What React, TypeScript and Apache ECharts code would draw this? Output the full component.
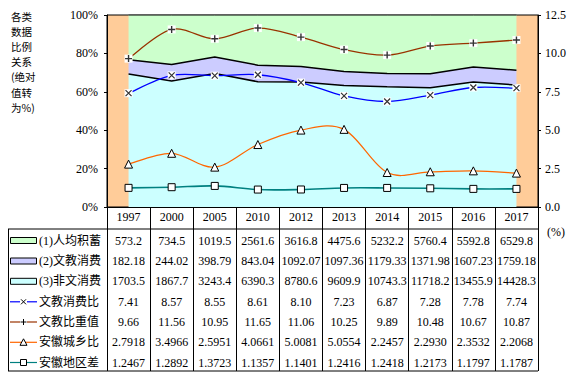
import React, { useEffect, useRef } from 'react';
import * as echarts from 'echarts';

const years = ['1997', '2000', '2005', '2010', '2012', '2013', '2014', '2015', '2016', '2017'];
const savings = [573.2, 734.5, 1019.5, 2561.6, 3616.8, 4475.6, 5232.2, 5760.4, 5592.8, 6529.8];
const eduSpend = [182.18, 244.02, 398.79, 843.04, 1092.07, 1097.36, 1179.33, 1371.98, 1607.23, 1759.18];
const otherSpend = [1703.5, 1867.7, 3243.4, 6390.3, 8780.6, 9609.9, 10743.3, 11718.2, 13455.9, 14428.3];
const eduRatio = [7.41, 8.57, 8.55, 8.61, 8.1, 7.23, 6.87, 7.28, 7.78, 7.74];
const eduShare = [9.66, 11.56, 10.95, 11.65, 11.06, 10.25, 9.89, 10.48, 10.67, 10.87];
const urbanRural = [2.7918, 3.4966, 2.5951, 4.0661, 5.0081, 5.0554, 2.2457, 2.293, 2.3532, 2.2068];
const regionGap = [1.2467, 1.2892, 1.3723, 1.1357, 1.1401, 1.2416, 1.2418, 1.2173, 1.1797, 1.1787];

const leftTicks = [0, 20, 40, 60, 80, 100];
const rightTicks = [0, 2.5, 5, 7.5, 10, 12.5];

const rowNames = ['(1)人均积蓄', '(2)文教消费', '(3)非文消费', '文教消费比', '文教比重值', '安徽城乡比', '安徽地区差'];
const rowValues = [savings, eduSpend, otherSpend, eduRatio, eduShare, urbanRural, regionGap];
const rowDigits = [1, 2, 1, 2, 2, 4, 4];
const titleLines = ['各类', '数据', '比例', '关系', '(绝对', '值转', '为%)'];

// styles
const C_GREEN = '#CCFFCC';
const C_LAV = '#CCCCFF';
const C_CYAN = '#CCFFFF';
const C_ORANGE_BG = '#FFCC99';
const C_BLUE = '#0000FF';
const C_BROWN = '#993300';
const C_ORANGE = '#FF6600';
const C_TEAL = '#008080';
const SERIF = '"Liberation Serif", "Times New Roman", serif';
const MIX = '"Liberation Serif", "Noto Sans CJK SC", serif';

const GRID_L = 107, GRID_R = 538, GRID_T = 15, GRID_B = 207;
const ROW_Y = [240.5, 261, 281.3, 301.8, 322, 342.3, 362.5];
const TABLE_TOP = 229, TABLE_BOT = 371, TABLE_L = 8;

const X_PATH = 'path://M0,0L10,10M10,0L0,10';
const PLUS_PATH = 'path://M5,0V10M0,5H10';

function pct(arr: number[]) {
  return arr.map((v, i) => (v / (savings[i] + eduSpend[i] + otherSpend[i])) * 100);
}

// Excel-like smoothed curve (Catmull-Rom converted to cubic Bezier), drawn through the axes
function smoothCurve(name: string, values: number[], color: string, width: number) {
  return {
    name: name + '-curve',
    type: 'custom',
    coordinateSystem: 'cartesian2d',
    xAxisIndex: 0,
    yAxisIndex: 1,
    data: values.map((v, i) => [i, v]),
    encode: { x: 0, y: 1 },
    z: 4,
    silent: true,
    renderItem: (params: any, api: any) => {
      if (params.dataIndex !== 0) return null;
      const p = values.map((v, i) => api.coord([i, v]));
      const n = p.length;
      let d = `M${p[0][0]},${p[0][1]}`;
      for (let i = 0; i < n - 1; i++) {
        const p0 = p[Math.max(0, i - 1)];
        const p1 = p[i];
        const p2 = p[i + 1];
        const p3 = p[Math.min(n - 1, i + 2)];
        const c1x = p1[0] + (p2[0] - p0[0]) / 6;
        const c1y = p1[1] + (p2[1] - p0[1]) / 6;
        const c2x = p2[0] - (p3[0] - p1[0]) / 6;
        const c2y = p2[1] - (p3[1] - p1[1]) / 6;
        d += ` C${c1x},${c1y} ${c2x},${c2y} ${p2[0]},${p2[1]}`;
      }
      return {
        type: 'path',
        shape: { pathData: d },
        style: { stroke: color, lineWidth: width, fill: 'none' },
      };
    },
  };
}

function legendGraphics() {
  const els: any[] = [];
  const kinds = ['area', 'area', 'area', 'x', 'plus', 'tri', 'sq'];
  const fills = [C_GREEN, C_LAV, C_CYAN];
  const lineColors = ['', '', '', C_BLUE, C_BROWN, C_ORANGE, C_TEAL];
  ROW_Y.forEach((y, r) => {
    const k = kinds[r];
    if (k === 'area') {
      els.push({ type: 'rect', shape: { x: 10.5, y: y - 3, width: 26, height: 6 }, style: { fill: fills[r], stroke: '#000', lineWidth: 1 } });
    } else {
      els.push({ type: 'line', shape: { x1: 10, y1: y, x2: 37, y2: y }, style: { stroke: lineColors[r], lineWidth: 1.2 } });
      const cx = 23.5;
      if (k === 'x' || k === 'plus') {
        els.push({ type: 'rect', shape: { x: cx - 3.5, y: y - 3.5, width: 7, height: 7 }, style: { fill: '#fff' } });
        if (k === 'x') {
          els.push({ type: 'line', shape: { x1: cx - 2.5, y1: y - 2.5, x2: cx + 2.5, y2: y + 2.5 }, style: { stroke: '#000', lineWidth: 1 } });
          els.push({ type: 'line', shape: { x1: cx + 2.5, y1: y - 2.5, x2: cx - 2.5, y2: y + 2.5 }, style: { stroke: '#000', lineWidth: 1 } });
        } else {
          els.push({ type: 'line', shape: { x1: cx, y1: y - 3, x2: cx, y2: y + 3 }, style: { stroke: '#000', lineWidth: 1 } });
          els.push({ type: 'line', shape: { x1: cx - 3, y1: y, x2: cx + 3, y2: y }, style: { stroke: '#000', lineWidth: 1 } });
        }
      } else if (k === 'tri') {
        els.push({ type: 'polygon', shape: { points: [[cx, y - 3.5], [cx + 3.5, y + 3], [cx - 3.5, y + 3]] }, style: { fill: '#fff', stroke: '#000', lineWidth: 1 } });
      } else {
        els.push({ type: 'rect', shape: { x: cx - 3, y: y - 3, width: 6, height: 6 }, style: { fill: '#fff', stroke: '#000', lineWidth: 1 } });
      }
    }
    els.push({ type: 'text', x: 39, y, style: { text: rowNames[r], font: `12px ${MIX}`, fill: '#000', verticalAlign: 'middle', align: 'left' } });
  });
  // table borders
  els.push({ type: 'line', shape: { x1: TABLE_L, y1: TABLE_TOP, x2: GRID_R, y2: TABLE_TOP }, style: { stroke: '#000', lineWidth: 1 } });
  els.push({ type: 'line', shape: { x1: TABLE_L, y1: TABLE_BOT, x2: GRID_R, y2: TABLE_BOT }, style: { stroke: '#000', lineWidth: 1 } });
  els.push({ type: 'line', shape: { x1: TABLE_L + 0.5, y1: TABLE_TOP, x2: TABLE_L + 0.5, y2: TABLE_BOT }, style: { stroke: '#000', lineWidth: 1 } });
  // title, one text per line
  titleLines.forEach((t, i) => {
    els.push({ type: 'text', x: 11, y: 16 + i * 15.2, style: { text: t, font: `10.5px "Noto Sans CJK SC", sans-serif`, fill: '#000', verticalAlign: 'middle', align: 'left' } });
  });
  els.push({ type: 'text', x: 547, y: 232, style: { text: '(%)', font: `12px ${SERIF}`, fill: '#000', verticalAlign: 'middle' } });
  return els;
}

export default function App() {
  const ref = useRef<HTMLDivElement>(null);
  useEffect(() => {
    if (!ref.current) return;
    const chart = echarts.init(ref.current, undefined, { renderer: 'svg' });
    const extraAxes = ROW_Y.map((y, r) => ({
      type: 'category',
      data: years,
      gridIndex: 0,
      position: 'bottom',
      offset: y - GRID_B,
      boundaryGap: true,
      axisLine: { show: false },
      axisTick: { show: false },
      axisLabel: {
        interval: 0,
        margin: 0,
        verticalAlign: 'middle',
        fontFamily: SERIF,
        fontSize: 12,
        color: '#000',
        formatter: (_v: string, idx: number) => rowValues[r][idx].toFixed(rowDigits[r]),
      },
    }));
    const markers = (name: string, data: number[]) => ({
      name,
      type: 'line',
      yAxisIndex: 1,
      data,
      lineStyle: { width: 0, opacity: 0 },
      z: 5,
    });
    const option: any = {
      animation: false,
      grid: {
        left: GRID_L, right: 577 - GRID_R, top: GRID_T, bottom: 376 - GRID_B,
        show: true, backgroundColor: C_ORANGE_BG, borderColor: '#000', borderWidth: 1,
      },
      xAxis: [
        {
          type: 'category',
          data: years,
          boundaryGap: true,
          axisLine: { show: true, lineStyle: { color: '#000' } },
          axisTick: { show: true, interval: 0, length: TABLE_BOT - GRID_B, lineStyle: { color: '#000' } },
          axisLabel: { interval: 0, margin: 10, verticalAlign: 'middle', fontFamily: SERIF, fontSize: 12, color: '#000' },
          splitLine: { show: false },
        },
        ...extraAxes,
      ],
      yAxis: [
        {
          type: 'value', min: leftTicks[0], max: leftTicks[leftTicks.length - 1], interval: 20,
          axisLine: { show: true, lineStyle: { color: '#000' } },
          axisTick: { show: true, length: 3, lineStyle: { color: '#000' } },
          axisLabel: { margin: 9, fontFamily: SERIF, fontSize: 12, color: '#000', formatter: '{value}%' },
          splitLine: { show: false },
        },
        {
          type: 'value', min: rightTicks[0], max: rightTicks[rightTicks.length - 1], interval: 2.5,
          position: 'right',
          axisLine: { show: true, lineStyle: { color: '#000' } },
          axisTick: { show: true, length: 3, lineStyle: { color: '#000' } },
          axisLabel: { margin: 7, fontFamily: SERIF, fontSize: 12, color: '#000', formatter: (v: number) => v.toFixed(1) },
          splitLine: { show: false },
        },
      ],
      series: [
        { name: '(3)非文消费', type: 'line', stack: 'p', data: pct(otherSpend), symbol: 'none', areaStyle: { color: C_CYAN, opacity: 1 }, lineStyle: { color: '#000', width: 1.5 }, z: 2 },
        { name: '(2)文教消费', type: 'line', stack: 'p', data: pct(eduSpend), symbol: 'none', areaStyle: { color: C_LAV, opacity: 1 }, lineStyle: { color: '#000', width: 1.5 }, z: 2 },
        { name: '(1)人均积蓄', type: 'line', stack: 'p', data: pct(savings), symbol: 'none', areaStyle: { color: C_GREEN, opacity: 1 }, lineStyle: { color: '#000', width: 1 }, z: 2 },
        smoothCurve('文教消费比', eduRatio, C_BLUE, 1.3),
        smoothCurve('文教比重值', eduShare, C_BROWN, 1.3),
        smoothCurve('安徽城乡比', urbanRural, C_ORANGE, 1.2),
        smoothCurve('安徽地区差', regionGap, C_TEAL, 1.6),
        { ...markers('文教消费比', eduRatio), symbol: 'rect', symbolSize: 8, itemStyle: { color: '#fff', borderWidth: 0 } },
        { name: '文教消费比x', type: 'scatter', yAxisIndex: 1, data: eduRatio, symbol: X_PATH, symbolSize: 6, itemStyle: { color: 'rgba(0,0,0,0)', borderColor: '#000', borderWidth: 1.2 }, z: 6 },
        { ...markers('文教比重值', eduShare), symbol: 'rect', symbolSize: 8, itemStyle: { color: '#fff', borderWidth: 0 } },
        { name: '文教比重值+', type: 'scatter', yAxisIndex: 1, data: eduShare, symbol: PLUS_PATH, symbolSize: 7, itemStyle: { color: 'rgba(0,0,0,0)', borderColor: '#000', borderWidth: 1.4 }, z: 6 },
        { ...markers('安徽城乡比', urbanRural), symbol: 'triangle', symbolSize: 8, itemStyle: { color: '#fff', borderColor: '#000', borderWidth: 1 } },
        { ...markers('安徽地区差', regionGap), symbol: 'rect', symbolSize: 7, itemStyle: { color: '#fff', borderColor: '#000', borderWidth: 1 } },
      ],
      graphic: legendGraphics(),
    };
    chart.setOption(option);
    return () => chart.dispose();
  }, []);
  return <div ref={ref} style={{ position: 'fixed', left: 0, top: 0, width: 577, height: 376, background: '#fff' }} />;
}
